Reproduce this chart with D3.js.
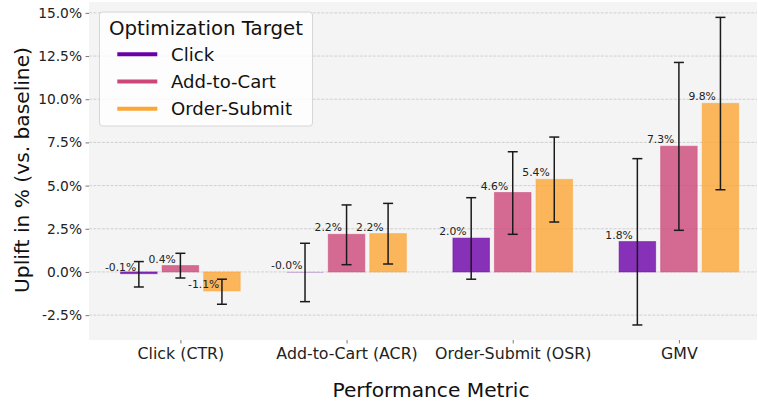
<!DOCTYPE html>
<html>
<head>
<meta charset="utf-8">
<script src="https://cdn.jsdelivr.net/npm/d3@7"></script>
<style>
  body { margin: 0; background: #fff; }
  text { font-family: "DejaVu Sans", sans-serif; }
</style>
</head>
<body>
<svg id="chart"></svg>
<script>
const metrics = ['Click (CTR)', 'Add-to-Cart (ACR)', 'Order-Submit (OSR)', 'GMV'];
const targets = ['Click', 'Add-to-Cart', 'Order-Submit'];
const targetColors = ['#6a00a8', '#cc4778', '#fca636'];

// uplift in %, one array per optimization target
const clickUplift = [-0.1, -0.02, 1.96, 1.76];
const cartUplift = [0.37, 2.18, 4.6, 7.28];
const orderUplift = [-1.1, 2.22, 5.36, 9.76];

// error bar ends
const clickLow = [-0.87, -1.72, -0.42, -3.07];
const clickHigh = [0.6, 1.66, 4.3, 6.56];
const cartLow = [-0.35, 0.42, 2.18, 2.41];
const cartHigh = [1.08, 3.88, 6.96, 12.13];
const orderLow = [-1.87, 0.46, 2.89, 4.76];
const orderHigh = [-0.42, 3.97, 7.81, 14.74];

const yTicks = [-2.5, 0, 2.5, 5, 7.5, 10, 12.5, 15];

const width = 758;
const height = 401;
const plot = { left: 89, right: 757, top: 2, bottom: 340 };

const series = [
    { values: clickUplift, low: clickLow, high: clickHigh },
    { values: cartUplift, low: cartLow, high: cartHigh },
    { values: orderUplift, low: orderLow, high: orderHigh }
];

const bars = [];
series.forEach(function(s, j) {
    metrics.forEach(function(m, i) {
        bars.push({ i: i, j: j, value: s.values[i], low: s.low[i], high: s.high[i] });
    });
});

const svg = d3.select('#chart')
    .attr('width', width)
    .attr('height', height);

const x = d3.scaleLinear().domain([-0.55, 3.47]).range([plot.left, plot.right]);
const y = d3.scaleLinear().domain([-3.94, 15.63]).range([plot.bottom, plot.top]);

const groupWidth = 0.25;
const barWidth = 0.22;

svg.append('rect')
    .attr('x', plot.left)
    .attr('y', plot.top)
    .attr('width', plot.right - plot.left)
    .attr('height', plot.bottom - plot.top)
    .attr('fill', '#f4f4f4');

// horizontal grid
svg.append('g')
    .selectAll('line')
    .data(yTicks)
    .enter()
    .append('line')
    .attr('x1', plot.left)
    .attr('x2', plot.right)
    .attr('y1', d => y(d))
    .attr('y2', d => y(d))
    .attr('stroke', '#c8c8c8')
    .attr('stroke-width', 0.8)
    .attr('stroke-dasharray', '3,1.3');

// y axis
const yAxis = svg.append('g')
    .attr('transform', 'translate(' + plot.left + ',0)')
    .call(d3.axisLeft(y).tickValues(yTicks).tickSize(3.5).tickPadding(3.5)
        .tickFormat(d => d.toFixed(1) + '%'));
yAxis.select('.domain').remove();
yAxis.selectAll('line').attr('stroke', '#555').attr('stroke-width', 0.8);
yAxis.selectAll('text').attr('font-size', 13.8).attr('fill', '#222')
    .attr('font-family', '"DejaVu Sans", sans-serif');

// x axis
const xAxis = svg.append('g')
    .attr('transform', 'translate(0,' + plot.bottom + ')')
    .call(d3.axisBottom(x).tickValues(d3.range(metrics.length)).tickSize(3.5).tickPadding(4)
        .tickFormat(i => metrics[i]));
xAxis.select('.domain').remove();
xAxis.selectAll('line').attr('stroke', '#555').attr('stroke-width', 0.8);
xAxis.selectAll('text').attr('font-size', 15.8).attr('fill', '#222')
    .attr('font-family', '"DejaVu Sans", sans-serif');

// bars
svg.append('g')
    .selectAll('rect')
    .data(bars)
    .enter()
    .append('rect')
    .attr('x', d => x(d.i + (d.j - 1) * groupWidth - barWidth / 2))
    .attr('width', x(barWidth) - x(0))
    .attr('y', d => y(Math.max(0, d.value)))
    .attr('height', d => Math.abs(y(d.value) - y(0)))
    .attr('fill', d => targetColors[d.j])
    .attr('fill-opacity', 0.8)
    .attr('stroke', d => targetColors[d.j])
    .attr('stroke-opacity', d => Math.abs(y(d.value) - y(0)) < 1 ? 0 : 0.5)
    .attr('stroke-width', 1);

// error bars
const errs = svg.append('g')
    .selectAll('g')
    .data(bars)
    .enter()
    .append('g')
    .attr('stroke', '#1a1a1a')
    .attr('stroke-width', 1.5);
errs.append('line')
    .attr('x1', d => x(d.i + (d.j - 1) * groupWidth))
    .attr('x2', d => x(d.i + (d.j - 1) * groupWidth))
    .attr('y1', d => y(d.low))
    .attr('y2', d => y(d.high));
['low', 'high'].forEach(function(k) {
    errs.append('line')
        .attr('x1', d => x(d.i + (d.j - 1) * groupWidth) - 5)
        .attr('x2', d => x(d.i + (d.j - 1) * groupWidth) + 5)
        .attr('y1', d => y(d[k]))
        .attr('y2', d => y(d[k]));
});

// value labels
svg.append('g')
    .selectAll('text')
    .data(bars)
    .enter()
    .append('text')
    .attr('x', d => x(d.i + (d.j - 1) * groupWidth - barWidth / 2))
    .attr('y', d => y(d.value) - 3)
    .attr('text-anchor', 'middle')
    .attr('font-size', 10.8)
    .attr('fill', '#222')
    .text(d => d.value.toFixed(1) + '%');

// axis titles
svg.append('text')
    .attr('x', (plot.left + plot.right) / 2 + 8)
    .attr('y', 397)
    .attr('text-anchor', 'middle')
    .attr('font-size', 20.2)
    .attr('fill', '#111')
    .text('Performance Metric');

svg.append('text')
    .attr('transform', 'translate(29,170) rotate(-90)')
    .attr('text-anchor', 'middle')
    .attr('font-size', 20.2)
    .attr('fill', '#111')
    .text('Uplift in % (vs. baseline)');

// legend
const legend = svg.append('g');
legend.append('rect')
    .attr('x', 99.5)
    .attr('y', 12)
    .attr('width', 213)
    .attr('height', 114)
    .attr('rx', 3)
    .attr('fill', '#fff')
    .attr('fill-opacity', 0.8)
    .attr('stroke', '#d6d6d6')
    .attr('stroke-width', 1);
legend.append('text')
    .attr('x', 206)
    .attr('y', 34.5)
    .attr('text-anchor', 'middle')
    .attr('font-size', 19.8)
    .attr('fill', '#111')
    .text('Optimization Target');
const items = legend.selectAll('g.item')
    .data(targets)
    .enter()
    .append('g')
    .attr('class', 'item')
    .attr('transform', (d, k) => 'translate(0,' + (54.3 + k * 27.2) + ')');
items.append('line')
    .attr('x1', 117.3)
    .attr('x2', 157.3)
    .attr('stroke', (d, k) => targetColors[k])
    .attr('stroke-width', 4);
items.append('text')
    .attr('x', 171)
    .attr('y', 6.5)
    .attr('font-size', 18.1)
    .attr('fill', '#111')
    .text(d => d);
</script>
</body>
</html>
